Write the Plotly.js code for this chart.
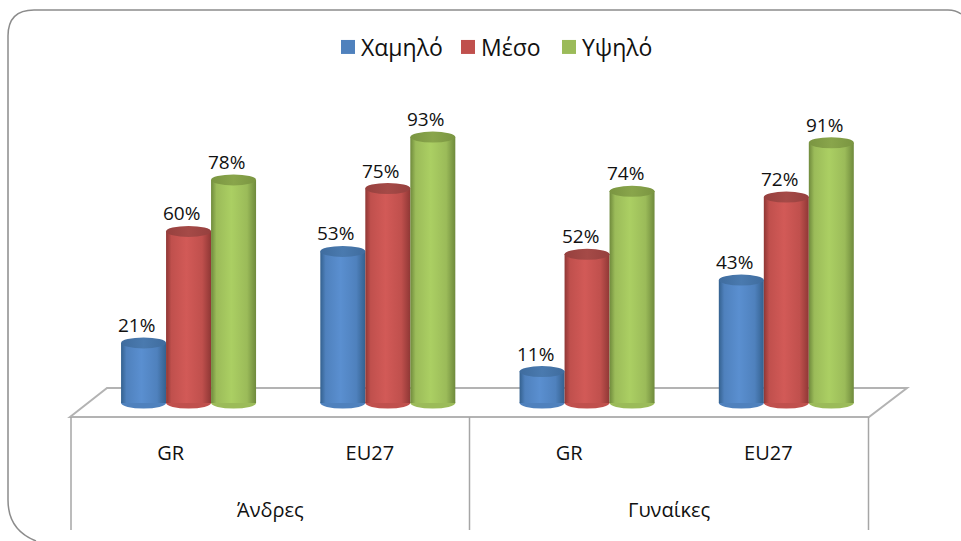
<!DOCTYPE html>
<html>
<head>
<meta charset="utf-8">
<script src="https://cdn.plot.ly/plotly-3.0.1.min.js"></script>
<style>html,body{margin:0;padding:0;background:#fff}#chart{width:961px;height:541px}</style>
</head>
<body>
<div id="chart"></div>
<script>
const groups = ["Άνδρες", "Γυναίκες"];
const categories = ["GR", "EU27", "GR", "EU27"];
const seriesNames = ["Χαμηλό", "Μέσο", "Υψηλό"];
const low = [21, 53, 11, 43];
const mid = [60, 75, 52, 72];
const high = [78, 93, 74, 91];
const seriesValues = [low, mid, high];
const baseColors = ["#4f81bd", "#c0504d", "#9bbb59"];
const gradients = [
  {edge: "#34618f", light: "#5a8fd0", cap: "#3f6c9e", capLight: "#4a7aaf"},
  {edge: "#8f3735", light: "#d25a57", cap: "#96403e", capLight: "#a54a47"},
  {edge: "#6f8a3c", light: "#abcf63", cap: "#7a9541", capLight: "#89a54b"}
];
const legendSwatchLeft = [341, 461, 562];

// pixel geometry of the plot
const L = 71, R = 54, T = 60, B = 124, W = 961, H = 541;
const plotW = W - L - R, plotH = H - T - B;
const catPx = 199.25, pxPerUnit = 2.86, zeroPy = 403;
const xMax = plotW / catPx;
const depth = 0.09;             // bars sit behind the axis labels (3-D offset)
const barW = 45 / catPx;
const capR = 5.5 / pxPerUnit;
const px = v => (v - L) / plotW;
const py = v => (T + plotH - v) / plotH;

const tickPos = categories.map((_, i) => i + 0.5);
const barPos = tickPos.map(t => t + depth);

const traces = seriesValues.map((vals, s) => ({
  type: "bar", name: seriesNames[s], x: barPos, y: vals,
  marker: {color: baseColors[s], line: {width: 0}}, hoverinfo: "x+y"
}));

const shapes = [];
const gradShape = [];
// frame
shapes.push({type: "path", xref: "paper", yref: "paper", layer: "below",
  path: `M ${px(36)} ${py(541)} Q ${px(8)} ${py(530)} ${px(8)} ${py(500)} L ${px(8)} ${py(36)} Q ${px(8)} ${py(10)} ${px(34)} ${py(10)} L ${px(948)} ${py(10)} Q ${px(956)} ${py(10)} ${px(961)} ${py(14)}`,
  line: {color: "#8c8c8c", width: 1.5}, fillcolor: "rgba(0,0,0,0)"});
// floor
shapes.push({type: "path", xref: "paper", yref: "paper", layer: "below",
  path: `M ${px(70)} ${py(417)} L ${px(107)} ${py(388)} L ${px(907)} ${py(388)} L ${px(869)} ${py(417)} Z`,
  line: {color: "#b3b3b3", width: 2}, fillcolor: "#ffffff"});
// dividers
[71, 469.5, 868.5].forEach(x => shapes.push({type: "line", xref: "paper", yref: "paper", layer: "below",
  x0: px(x), x1: px(x), y0: py(417), y1: py(530), line: {color: "#a6a6a6", width: 1.5}}));

// cylinder bottoms and caps, from the same values as the bars
seriesValues.forEach((vals, s) => vals.forEach((v, i) => {
  const cx = barPos[i] + (s - 1) * barW;
  gradShape.push({idx: shapes.length, id: "side" + s, layer: "below"});
  shapes.push({type: "circle", xref: "x", yref: "y", layer: "below",
    x0: cx - barW / 2, x1: cx + barW / 2, y0: -capR, y1: capR,
    fillcolor: baseColors[s], line: {width: 0}});
}));
seriesValues.forEach((vals, s) => vals.forEach((v, i) => {
  const cx = barPos[i] + (s - 1) * barW;
  gradShape.push({idx: shapes.length, id: "cap" + s, layer: "above"});
  shapes.push({type: "circle", xref: "x", yref: "y", layer: "above",
    x0: cx - barW / 2, x1: cx + barW / 2, y0: v - capR, y1: v + capR,
    fillcolor: gradients[s].cap, line: {width: 0}});
}));

const annotations = [];
seriesValues.forEach((vals, s) => vals.forEach((v, i) => {
  annotations.push({x: barPos[i] + (s - 1) * barW, y: v, xref: "x", yref: "y",
    text: v + "%", showarrow: false, xanchor: "center", yanchor: "middle",
    xshift: -7, yshift: 18, font: {size: 19, color: "#111"}});
}));
groups.forEach((g, i) => annotations.push({x: 2 * i + 1, y: py(509), xref: "x", yref: "paper",
  text: g, showarrow: false, xanchor: "center", yanchor: "middle", font: {size: 20, color: "#111"}}));

const layout = {
  width: W, height: H, margin: {l: L, r: R, t: T, b: B, pad: 0, autoexpand: false},
  paper_bgcolor: "#fff", plot_bgcolor: "rgba(0,0,0,0)",
  font: {family: '"Open Sans", "Noto Sans", sans-serif', color: "#111"},
  barmode: "group", bargap: 1 - 3 * barW, bargroupgap: 0,
  showlegend: true,
  legend: {orientation: "h", x: px(495), xanchor: "center", y: py(47), yanchor: "middle",
    font: {size: 23, color: "#111"}, itemclick: false, itemdoubleclick: false},
  xaxis: {range: [0, xMax], tickmode: "array", tickvals: tickPos, ticktext: categories,
    showgrid: false, zeroline: false, showline: false, ticks: "", ticklabelstandoff: 22,
    tickfont: {size: 20, color: "#111"}, fixedrange: true, automargin: false},
  yaxis: {range: [(zeroPy - (T + plotH)) / pxPerUnit, (zeroPy - T) / pxPerUnit], visible: false, fixedrange: true},
  shapes, annotations
};

const gd = document.getElementById("chart");
Plotly.newPlot(gd, traces, layout, {displayModeBar: false, responsive: false}).then(() => {
  const NS = "http://www.w3.org/2000/svg";
  const svg = gd.querySelector(".main-svg");
  const defs = svg.querySelector("defs") || svg.insertBefore(document.createElementNS(NS, "defs"), svg.firstChild);
  const mk = (id, stops) => {
    const g = document.createElementNS(NS, "linearGradient");
    g.setAttribute("id", id);
    g.setAttribute("x1", "0"); g.setAttribute("x2", "1"); g.setAttribute("y1", "0"); g.setAttribute("y2", "0");
    stops.forEach(([o, c]) => {
      const st = document.createElementNS(NS, "stop");
      st.setAttribute("offset", o); st.setAttribute("stop-color", c);
      g.appendChild(st);
    });
    defs.appendChild(g);
  };
  gradients.forEach((c, s) => {
    mk("side" + s, [[0, c.edge], [0.12, baseColors[s]], [0.45, c.light], [0.8, baseColors[s]], [1, c.edge]]);
    mk("cap" + s, [[0, c.cap], [0.5, c.capLight], [1, c.cap]]);
  });
  gd.querySelectorAll(".cartesianlayer .barlayer .trace.bars").forEach((tr, s) => {
    tr.querySelectorAll(".point path").forEach(p => { p.style.fill = `url(#side${s})`; });
  });
  gradShape.forEach(g => {
    const p = gd.querySelector(`.layer-${g.layer} .shapelayer path[data-index="${g.idx}"]`);
    if (p) p.style.fill = `url(#${g.id})`;
  });
  // legend: swatch size and entry spacing
  const legend = gd.querySelector(".legend");
  const sb = legend.querySelector(".scrollbox");
  if (sb) sb.removeAttribute("clip-path");
  const lm = /translate\(\s*([-\d.]+)/.exec(legend.getAttribute("transform"));
  const lx = lm ? parseFloat(lm[1]) : 0;
  legend.querySelectorAll(".traces").forEach((item, s) => {
    const ty = /translate\(\s*[-\d.]+\s*,\s*([-\d.]+)/.exec(item.getAttribute("transform"));
    item.setAttribute("transform", `translate(${legendSwatchLeft[s] - 13 - lx},${ty ? ty[1] : 0})`);
    item.querySelectorAll(".legendpoints path").forEach(p => {
      p.setAttribute("d", "M7,7H-7V-7H7Z");
      p.style.fill = baseColors[s];
      p.style.stroke = "none";
    });
    const t = item.querySelector("text");
    if (t) t.setAttribute("x", 33);
  });
});
</script>
</body>
</html>
